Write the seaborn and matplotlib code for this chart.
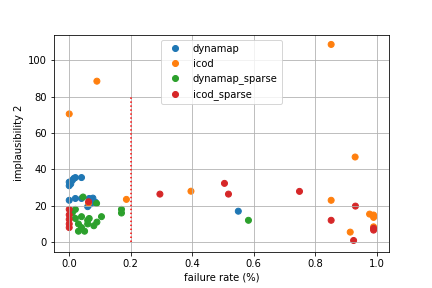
import pandas as pd
import matplotlib
matplotlib.use("Agg")
import matplotlib.pyplot as plt
import seaborn as sns

# failure rate / implausibility values per method
dynamap_x = [0.0, 0.0, 0.005, 0.015, 0.02, 0.04, 0.01, 0.0, 0.02, 0.04, 0.065, 0.077, 0.085, 0.06, 0.07, 0.55]
dynamap_y = [31, 33, 32, 35, 35.5, 35.5, 34, 23, 24, 24, 24, 24.2, 22, 19.5, 21, 17]

icod_x = [0.0, 0.09, 0.063, 0.186, 0.396, 0.852, 0.93, 0.852, 0.977, 0.99, 0.99, 0.99, 0.914]
icod_y = [70.5, 88.5, 21.5, 23.5, 28, 108.7, 46.8, 23, 15.4, 14.9, 13.6, 8.4, 5.5]

dynamap_sparse_x = [0.045, 0.089, 0.01, 0.02, 0.03, 0.04, 0.03, 0.05, 0.06, 0.06, 0.08, 0.09, 0.105, 0.02,
                    0.04, 0.065, 0.17, 0.17, 0.583]
dynamap_sparse_y = [24.8, 21.3, 16, 13, 10, 8, 6, 6, 12, 10, 9, 11, 14, 18, 14, 13, 18, 16, 12]

icod_sparse_x = [0.0, 0.0, 0.0, 0.0, 0.0, 0.063, 0.295, 0.505, 0.518, 0.749, 0.931, 0.852, 0.925, 0.99, 0.99]
icod_sparse_y = [18, 15, 12.5, 10, 8, 22.2, 26.4, 32.3, 26.4, 27.9, 19.8, 12, 0.9, 6.6, 7.6]

methods = ["dynamap", "icod", "dynamap_sparse", "icod_sparse"]
xs = [dynamap_x, icod_x, dynamap_sparse_x, icod_sparse_x]
ys = [dynamap_y, icod_y, dynamap_sparse_y, icod_sparse_y]

frames = []
for name, x, y in zip(methods, xs, ys):
    frames.append(pd.DataFrame({"failure": x, "implaus": y, "method": name}))
df = pd.concat(frames, ignore_index=True)

fig, ax = plt.subplots(figsize=(6, 4), dpi=72)
fig.subplots_adjust(bottom=0.125)
sns.scatterplot(data=df, x="failure", y="implaus", hue="method", hue_order=methods,
                palette=["tab:blue", "tab:orange", "tab:green", "tab:red"],
                s=36, linewidth=1, edgecolor="face", ax=ax)
ax.vlines(0.2, 0, 80, colors="r", linestyles=":")
ax.grid(True)
ax.set_xlabel("failure rate (%)")
ax.set_ylabel("implausibility 2")
sns.move_legend(ax, "upper center", title=None)

plt.savefig("out.png")
